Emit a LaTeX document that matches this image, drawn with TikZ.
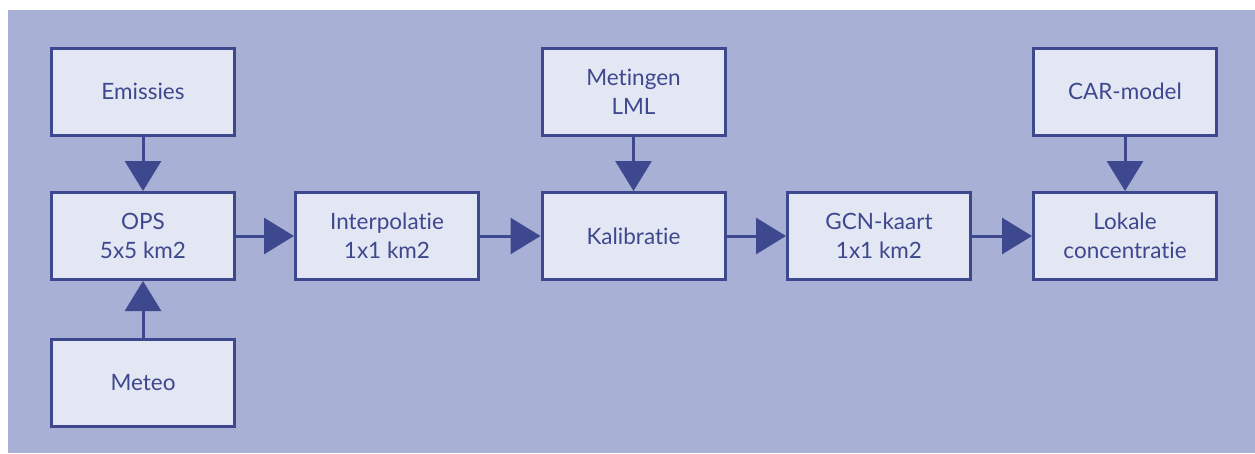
\documentclass[tikz,border=0pt]{standalone}
\usepackage{fontspec}
\setmainfont{Lato}[Ligatures=NoCommon]
\usetikzlibrary{arrows.meta}
\definecolor{bgc}{RGB}{169,176,214}
\definecolor{boxc}{RGB}{227,230,243}
\definecolor{dark}{RGB}{62,72,142}
\tikzset{
  blk/.style={draw=dark, fill=boxc, line width=3pt, minimum width=183pt, minimum height=87pt,
    inner sep=0pt, align=center, text=dark, font=\fontsize{22.5}{29}\selectfont},
  conn/.style={draw=dark, line width=3pt, -{Triangle[length=30pt,width=36pt]}}
}
\begin{document}
\begin{tikzpicture}[x=1pt,y=-1pt]
\useasboundingbox (0,0) rectangle (1255,453);
\fill[white] (0,0) rectangle (1255,453);
\fill[bgc] (8,10) rectangle (1255,453);
\node[blk] (emis) at (143,91.5) {Emissies};
\node[blk] (ops) at (143,236) {OPS\\5x5 km2};
\node[blk] (meteo) at (143,383) {Meteo};
\node[blk] (interp) at (387,236) {Interpolatie\\1x1 km2};
\node[blk] (meting) at (633.5,91.5) {Metingen\\LML};
\node[blk] (kal) at (633.5,236) {Kalibratie};
\node[blk] (gcn) at (879,236) {GCN-kaart\\1x1 km2};
\node[blk] (car) at (1125,91.5) {CAR-model};
\node[blk] (lok) at (1125,236) {Lokale\\concentratie};
\draw[conn] (emis) -- (ops);
\draw[conn] (meteo) -- (ops);
\draw[conn] (ops) -- (interp);
\draw[conn] (interp) -- (kal);
\draw[conn] (meting) -- (kal);
\draw[conn] (kal) -- (gcn);
\draw[conn] (gcn) -- (lok);
\draw[conn] (car) -- (lok);
\end{tikzpicture}
\end{document}
